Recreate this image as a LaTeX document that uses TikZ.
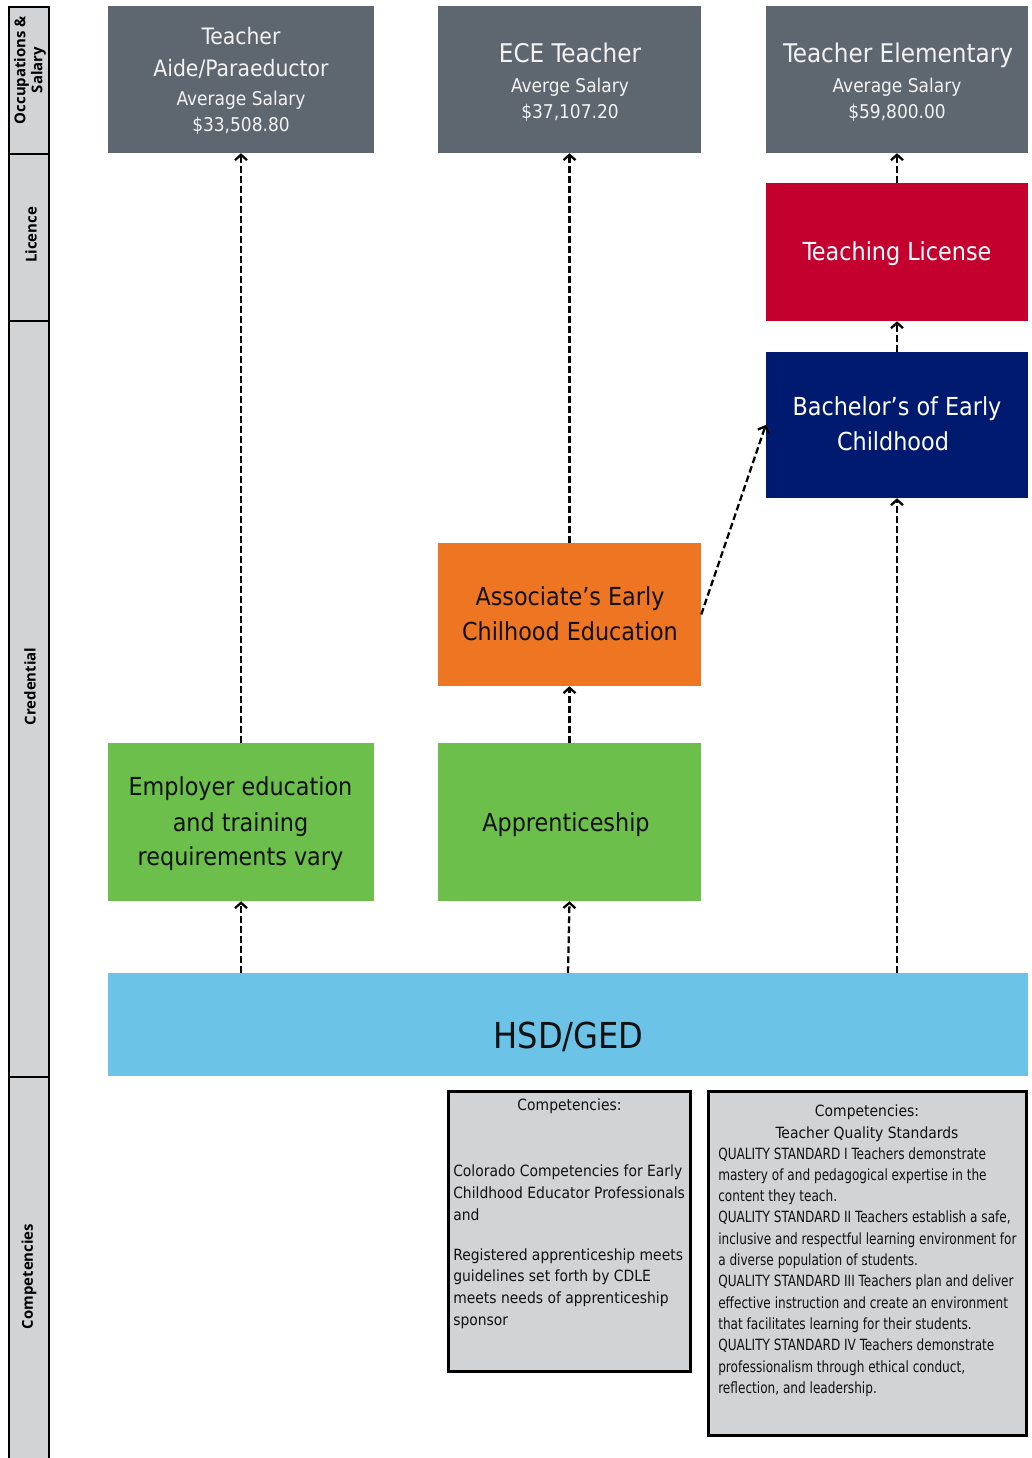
\documentclass[tikz,border=0pt]{standalone}
\usepackage{fontspec}
\setmainfont{DejaVu Sans Condensed}
\newfontfamily\qfont{DejaVu Sans Condensed}[FakeStretch=0.87]
\newfontfamily\sidefont{Open Sans}
\usetikzlibrary{arrows.meta}
\definecolor{occgray}{HTML}{5E6770}
\definecolor{licred}{HTML}{C4002F}
\definecolor{bachblue}{HTML}{001A70}
\definecolor{assocorange}{HTML}{EE7623}
\definecolor{appgreen}{HTML}{6DBF4B}
\definecolor{hsdblue}{HTML}{6CC3E8}
\definecolor{panelgray}{HTML}{D1D3D4}
\definecolor{lighttext}{HTML}{F2F2F2}
\definecolor{darktext}{HTML}{111111}
\tikzset{
  pbox/.style 2 args={rectangle, inner sep=0pt, draw=none, minimum width=#1*0.75pt, minimum height=#2*0.75pt},
  sidecell/.style={rectangle, inner sep=0pt, draw=black, line width=1.6pt, fill=panelgray, minimum width=40*0.75pt, minimum height=#1*0.75pt},
  panel/.style 2 args={rectangle, inner sep=0pt, draw=black, line width=2.25pt, fill=panelgray, minimum width=#1*0.75pt, minimum height=#2*0.75pt},
  lbl/.style={anchor=base, inner sep=0pt},
  lblw/.style={anchor=base west, inner sep=0pt},
  ttl/.style={lbl, font=\fontsize{18.6}{22}\selectfont},
  bigttl/.style={lbl, font=\fontsize{19.3}{22}\selectfont},
  sal/.style={lbl, font=\fontsize{14.2}{17}\selectfont, text=lighttext},
  side/.style={inner sep=0pt, rotate=90, align=center, font=\sidefont\bfseries\fontsize{11.2}{12.75}\selectfont},
  ctext/.style={font=\fontsize{11.6}{14}\selectfont, text=darktext},
  qtext/.style={font=\qfont\fontsize{11.6}{14}\selectfont, text=darktext},
  arr/.style={line width=1.7pt, dash pattern=on 5pt off 2.5pt, -{Straight Barb[length=4pt,width=9pt]}}
}
\begin{document}
\begin{tikzpicture}[x=0.75pt, y=-0.75pt]
\useasboundingbox (0,0) rectangle (1031,1458);
\fill[white] (0,0) rectangle (1031,1458);

% side bar
\node[sidecell=147] (cellocc) at (29,80.5) {};
\node[sidecell=167] (celllic) at (29,237.5) {};
\node[sidecell=756] (cellcred) at (29,699) {};
\node[sidecell=393] (cellcomp) at (29,1273.5) {};
\node[side] (sideocc) at (30,70) {Occupations \&\\Salary};
\node[side] (sidelic) at (31,235) {Licence};
\node[side] (sidecred) at (30,686.5) {Credential};
\node[side] (sidecomp) at (29,1276.5) {Competencies};

% boxes
\node[pbox={266}{147}, fill=occgray] (aide) at (241,79.5) {};
\node[pbox={263}{147}, fill=occgray] (ece) at (569.5,79.5) {};
\node[pbox={262}{147}, fill=occgray] (elem) at (897,79.5) {};
\node[pbox={262}{138}, fill=licred] (lic) at (897,252) {};
\node[pbox={262}{146}, fill=bachblue] (bach) at (897,425) {};
\node[pbox={263}{143}, fill=assocorange] (assoc) at (569.5,614.5) {};
\node[pbox={266}{158}, fill=appgreen] (emp) at (241,822) {};
\node[pbox={263}{158}, fill=appgreen] (appr) at (569.5,822) {};
\node[pbox={920}{103}, fill=hsdblue] (hsd) at (568,1024.5) {};
\node[panel={242}{280}] (comp1) at (569.5,1231.5) {};
\node[panel={318}{343.5}] (comp2) at (867.5,1263.25) {};

% box texts
\node[lbl, font=\fontsize{17}{20}\selectfont, text=lighttext] (aidet1) at (241,45) {Teacher};
\node[lbl, font=\fontsize{17}{20}\selectfont, text=lighttext] (aidet2) at (241,76.7) {Aide/Paraeductor};
\node[sal] (aides1) at (241,106) {Average Salary};
\node[sal] (aides2) at (241,131.7) {\$33,508.80};

\node[bigttl, text=lighttext] (ecet) at (570,62.7) {ECE Teacher};
\node[sal] (eces1) at (570,92.7) {Averge Salary};
\node[sal] (eces2) at (570,119) {\$37,107.20};

\node[bigttl, text=lighttext] (elemt) at (898,62.7) {Teacher Elementary};
\node[sal] (elems1) at (897,92.7) {Average Salary};
\node[sal] (elems2) at (897,119) {\$59,800.00};

\node[ttl, text=white] (lict) at (897,261) {Teaching License};
\node[ttl, text=white] (bacht1) at (897,415) {Bachelor’s of Early};
\node[ttl, text=white] (bacht2) at (893,450) {Childhood};
\node[ttl, text=darktext] (assoct1) at (570,605.7) {Associate’s Early};
\node[ttl, text=darktext] (assoct2) at (570,640.7) {Chilhood Education};
\node[ttl, text=darktext] (apprt) at (566,831) {Apprenticeship};
\node[ttl, text=darktext] (empt1) at (240.5,795.7) {Employer education};
\node[ttl, text=darktext] (empt2) at (240.5,831.7) {and training};
\node[ttl, text=darktext] (empt3) at (240.5,865) {requirements vary};
\node[lbl, font=\fontsize{26.8}{30}\selectfont, text=darktext] (hsdt) at (568.5,1048) {HSD/GED};

% competencies 1
\node[lbl, ctext] (c1h) at (569.5,1110) {Competencies:};
\node[lblw, ctext] (c1a) at (453,1176.7) {Colorado Competencies for Early};
\node[lblw, ctext] (c1b) at (453,1198.3) {Childhood Educator Professionals};
\node[lblw, ctext] (c1c) at (453,1220) {and};
\node[lblw, ctext] (c1d) at (453,1260) {Registered apprenticeship meets};
\node[lblw, ctext] (c1e) at (453,1281.7) {guidelines set forth by CDLE};
\node[lblw, ctext] (c1f) at (453,1303.3) {meets needs of apprenticeship};
\node[lblw, ctext] (c1g) at (453,1325) {sponsor};

% competencies 2
\node[lbl, ctext] (c2h1) at (867,1116.7) {Competencies:};
\node[lbl, ctext] (c2h2) at (867,1138.3) {Teacher Quality Standards};
\foreach \t [count=\i] in {
  {QUALITY STANDARD I Teachers demonstrate},
  {mastery of and pedagogical expertise in the},
  {content they teach.},
  {QUALITY STANDARD II Teachers establish a safe,},
  {inclusive and respectful learning environment for},
  {a diverse population of students.},
  {QUALITY STANDARD III Teachers plan and deliver},
  {effective instruction and create an environment},
  {that facilitates learning for their students.},
  {QUALITY STANDARD IV Teachers demonstrate},
  {professionalism through ethical conduct,},
  {reflection, and leadership.}}
  \node[lblw, qtext] (c2l\i) at (718,{1159+21.3*(\i-1)}) {\t};

% connectors
\coordinate (h1) at (hsd.north -| emp.south);
\coordinate (h2) at (568,973);
\coordinate (h3) at (hsd.north -| bach.south);
\draw[arr] (h1) -- (emp.south);
\draw[arr] (emp.north) -- (aide.south);
\draw[arr] (h2) -- (appr.south);
\draw[arr] (appr.north) -- (assoc.south);
\draw[arr] (assoc.north) -- (ece.south);
\draw[arr] (assoc.east) -- (bach.west);
\draw[arr] (h3) -- (bach.south);
\draw[arr] (bach.north) -- (lic.south);
\draw[arr] (lic.north) -- (elem.south);
\end{tikzpicture}
\end{document}
